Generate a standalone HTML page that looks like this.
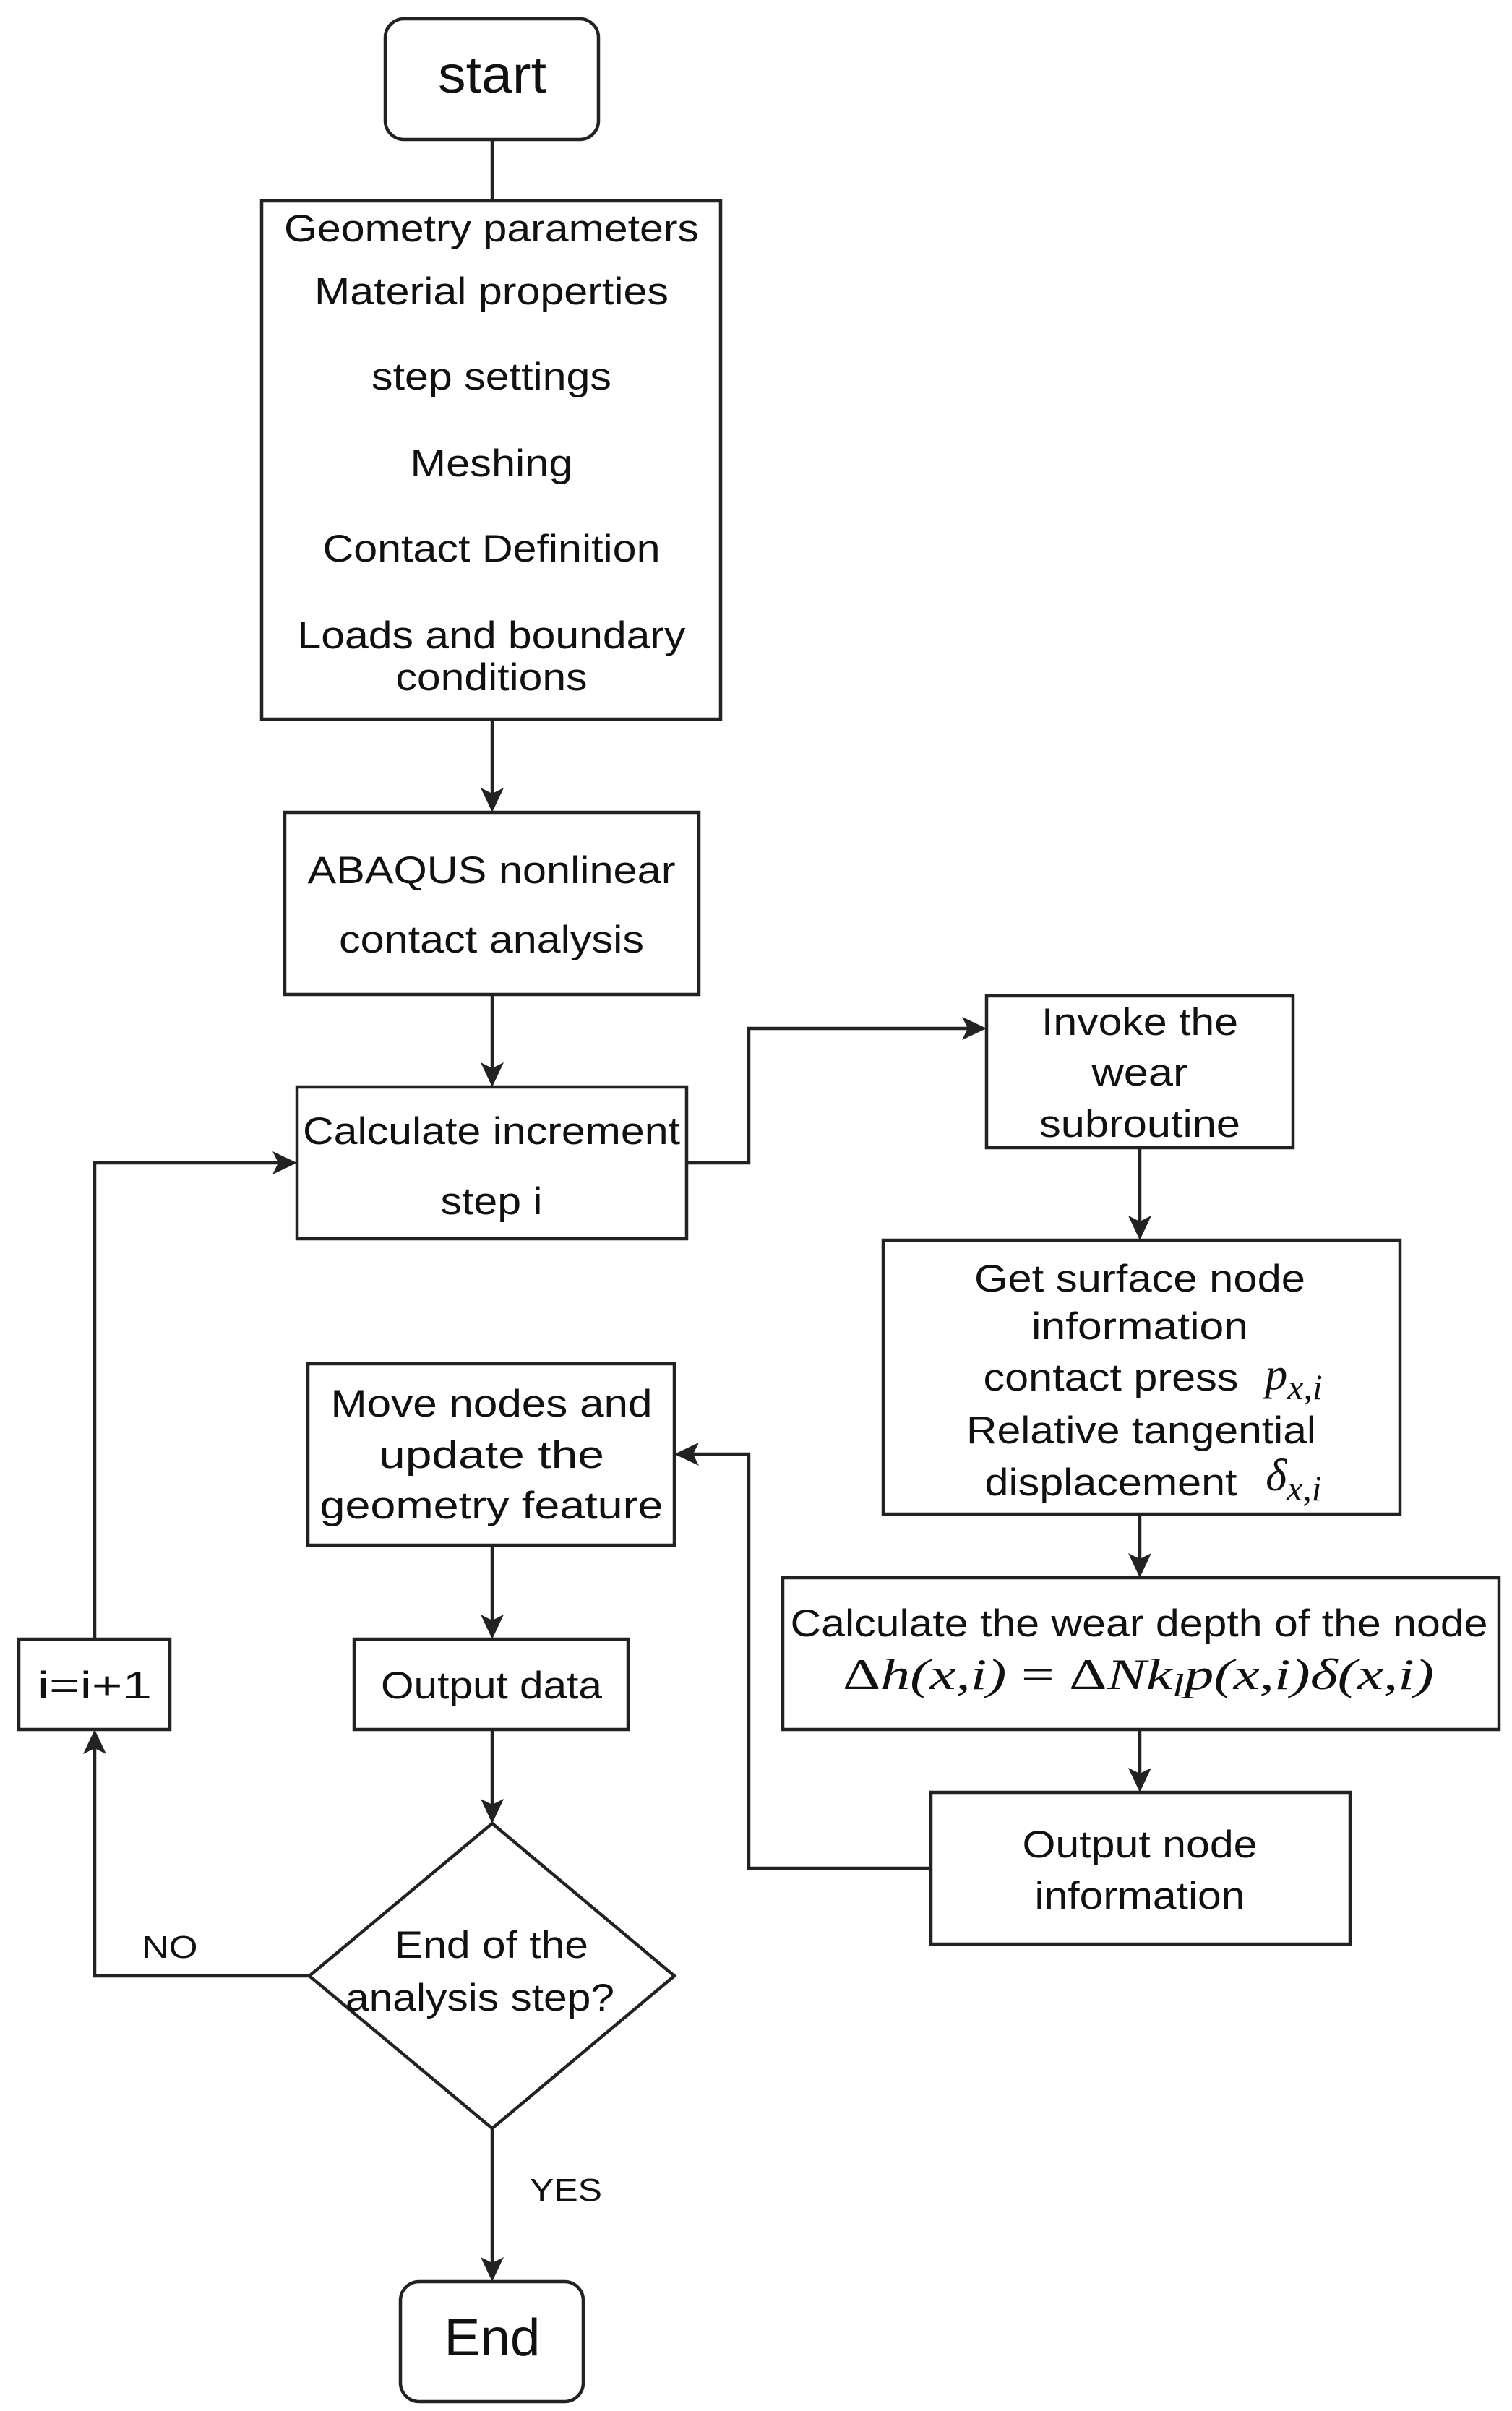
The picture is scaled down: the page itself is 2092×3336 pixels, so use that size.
<!DOCTYPE html>
<html><head><meta charset="utf-8"><style>
html,body{margin:0;padding:0;background:#fff}
svg{display:block}
text{font-family:"Liberation Sans",Arial,sans-serif;fill:#111;text-anchor:middle}
.m{font-family:"Liberation Serif",serif;font-style:italic}
</style></head><body>
<svg width="2092" height="3336" viewBox="0 0 2092 3336" xmlns="http://www.w3.org/2000/svg">
<g fill="none" stroke="#222" stroke-width="4.5">
<rect x="533" y="26" width="295" height="167" rx="26"/>
<rect x="362" y="278" width="635" height="717"/>
<rect x="394" y="1124" width="573" height="252"/>
<rect x="411" y="1504" width="539" height="210"/>
<rect x="1365" y="1378" width="424" height="210"/>
<rect x="1222" y="1716" width="715" height="379"/>
<rect x="1083" y="2183" width="991" height="210"/>
<rect x="1288" y="2480" width="580" height="210"/>
<rect x="426" y="1887" width="507" height="251"/>
<rect x="490" y="2268" width="379" height="125"/>
<rect x="26" y="2268" width="209" height="125"/>
<polygon points="681,2523 933,2734 681,2945 428,2734"/>
<rect x="554" y="3157" width="253" height="166" rx="26"/>
<line x1="681" y1="193" x2="681" y2="278"/>
<line x1="681" y1="995" x2="681" y2="1100"/>
<line x1="681" y1="1376" x2="681" y2="1480"/>
<polyline points="950,1609 1036,1609 1036,1423 1341,1423"/>
<line x1="1577" y1="1588" x2="1577" y2="1692"/>
<line x1="1577" y1="2095" x2="1577" y2="2159"/>
<line x1="1577" y1="2393" x2="1577" y2="2456"/>
<polyline points="1288,2585 1036,2585 1036,2012 957,2012"/>
<line x1="681" y1="2138" x2="681" y2="2244"/>
<line x1="681" y1="2393" x2="681" y2="2499"/>
<polyline points="428,2734 131,2734 131,2417"/>
<polyline points="131,2268 131,1609 387,1609"/>
<line x1="681" y1="2945" x2="681" y2="3133"/>
</g>
<g fill="#222">
<polygon points="681,1124 665,1090 681,1098 697,1090"/>
<polygon points="681,1504 665,1470 681,1478 697,1470"/>
<polygon points="1365,1423 1331,1407 1339,1423 1331,1439"/>
<polygon points="1577,1716 1561,1682 1577,1690 1593,1682"/>
<polygon points="1577,2183 1561,2149 1577,2157 1593,2149"/>
<polygon points="1577,2480 1561,2446 1577,2454 1593,2446"/>
<polygon points="933,2012 967,1996 959,2012 967,2028"/>
<polygon points="681,2268 665,2234 681,2242 697,2234"/>
<polygon points="681,2523 665,2489 681,2497 697,2489"/>
<polygon points="131,2393 115,2427 131,2419 147,2427"/>
<polygon points="411,1609 377,1593 385,1609 377,1625"/>
<polygon points="681,3157 665,3123 681,3131 697,3123"/>
</g>
<text x="681" y="128" font-size="72" textLength="150" lengthAdjust="spacingAndGlyphs">start</text>
<g font-size="53">
<text x="680" y="334" textLength="574" lengthAdjust="spacingAndGlyphs">Geometry parameters</text>
<text x="680" y="421" textLength="490" lengthAdjust="spacingAndGlyphs">Material properties</text>
<text x="680" y="539" textLength="332" lengthAdjust="spacingAndGlyphs">step settings</text>
<text x="680" y="659" textLength="225" lengthAdjust="spacingAndGlyphs">Meshing</text>
<text x="680" y="777" textLength="467" lengthAdjust="spacingAndGlyphs">Contact Definition</text>
<text x="680" y="897" textLength="537" lengthAdjust="spacingAndGlyphs">Loads and boundary</text>
<text x="680" y="955" textLength="265" lengthAdjust="spacingAndGlyphs">conditions</text>
<text x="680" y="1222" textLength="509" lengthAdjust="spacingAndGlyphs">ABAQUS nonlinear</text>
<text x="680" y="1318" textLength="422" lengthAdjust="spacingAndGlyphs">contact analysis</text>
<text x="680" y="1583" textLength="522" lengthAdjust="spacingAndGlyphs">Calculate increment</text>
<text x="680" y="1680" textLength="141" lengthAdjust="spacingAndGlyphs">step i</text>
<text x="1577" y="1432" textLength="272" lengthAdjust="spacingAndGlyphs">Invoke the</text>
<text x="1577" y="1502" textLength="133" lengthAdjust="spacingAndGlyphs">wear</text>
<text x="1577" y="1573" textLength="278" lengthAdjust="spacingAndGlyphs">subroutine</text>
<text x="1577" y="1787" textLength="458" lengthAdjust="spacingAndGlyphs">Get surface node</text>
<text x="1577" y="1853" textLength="300" lengthAdjust="spacingAndGlyphs">information</text>
<text x="1537" y="1924" textLength="353" lengthAdjust="spacingAndGlyphs">contact press</text>
<text x="1579" y="1997" textLength="484" lengthAdjust="spacingAndGlyphs">Relative tangential</text>
<text x="1537" y="2069" textLength="349" lengthAdjust="spacingAndGlyphs">displacement</text>
<text x="1576" y="2264" textLength="965" lengthAdjust="spacingAndGlyphs">Calculate the wear depth of the node</text>
<text x="1577" y="2570" textLength="325" lengthAdjust="spacingAndGlyphs">Output node</text>
<text x="1577" y="2641" textLength="291" lengthAdjust="spacingAndGlyphs">information</text>
<text x="680" y="1960" textLength="445" lengthAdjust="spacingAndGlyphs">Move nodes and</text>
<text x="680" y="2031" textLength="312" lengthAdjust="spacingAndGlyphs">update the</text>
<text x="680" y="2101" textLength="475" lengthAdjust="spacingAndGlyphs">geometry feature</text>
<text x="680" y="2350" textLength="306" lengthAdjust="spacingAndGlyphs">Output data</text>
<text x="131" y="2350" textLength="158" lengthAdjust="spacingAndGlyphs">i=i+1</text>
<text x="680" y="2709" textLength="268" lengthAdjust="spacingAndGlyphs">End of the</text>
<text x="664" y="2782" textLength="372" lengthAdjust="spacingAndGlyphs">analysis step?</text>
</g>
<text class="m" x="1790" y="1922" font-size="62">p<tspan font-size="50" dy="14">x,i</tspan></text>
<text class="m" x="1790" y="2062" font-size="62">δ<tspan font-size="50" dy="14">x,i</tspan></text>
<text class="m" x="1575" y="2337" font-size="60" textLength="818" lengthAdjust="spacingAndGlyphs"><tspan font-style="normal">Δ</tspan>h(x,i) <tspan font-style="normal">= Δ</tspan>Nk<tspan font-size="44" dy="10">l</tspan><tspan dy="-10">p(x,i)δ(x,i)</tspan></text>
<text x="681" y="3259" font-size="72" textLength="133" lengthAdjust="spacingAndGlyphs">End</text>
<text x="235" y="2709" font-size="44" textLength="77" lengthAdjust="spacingAndGlyphs">NO</text>
<text x="783" y="3045" font-size="44" textLength="100" lengthAdjust="spacingAndGlyphs">YES</text>
</svg>
</body></html>
